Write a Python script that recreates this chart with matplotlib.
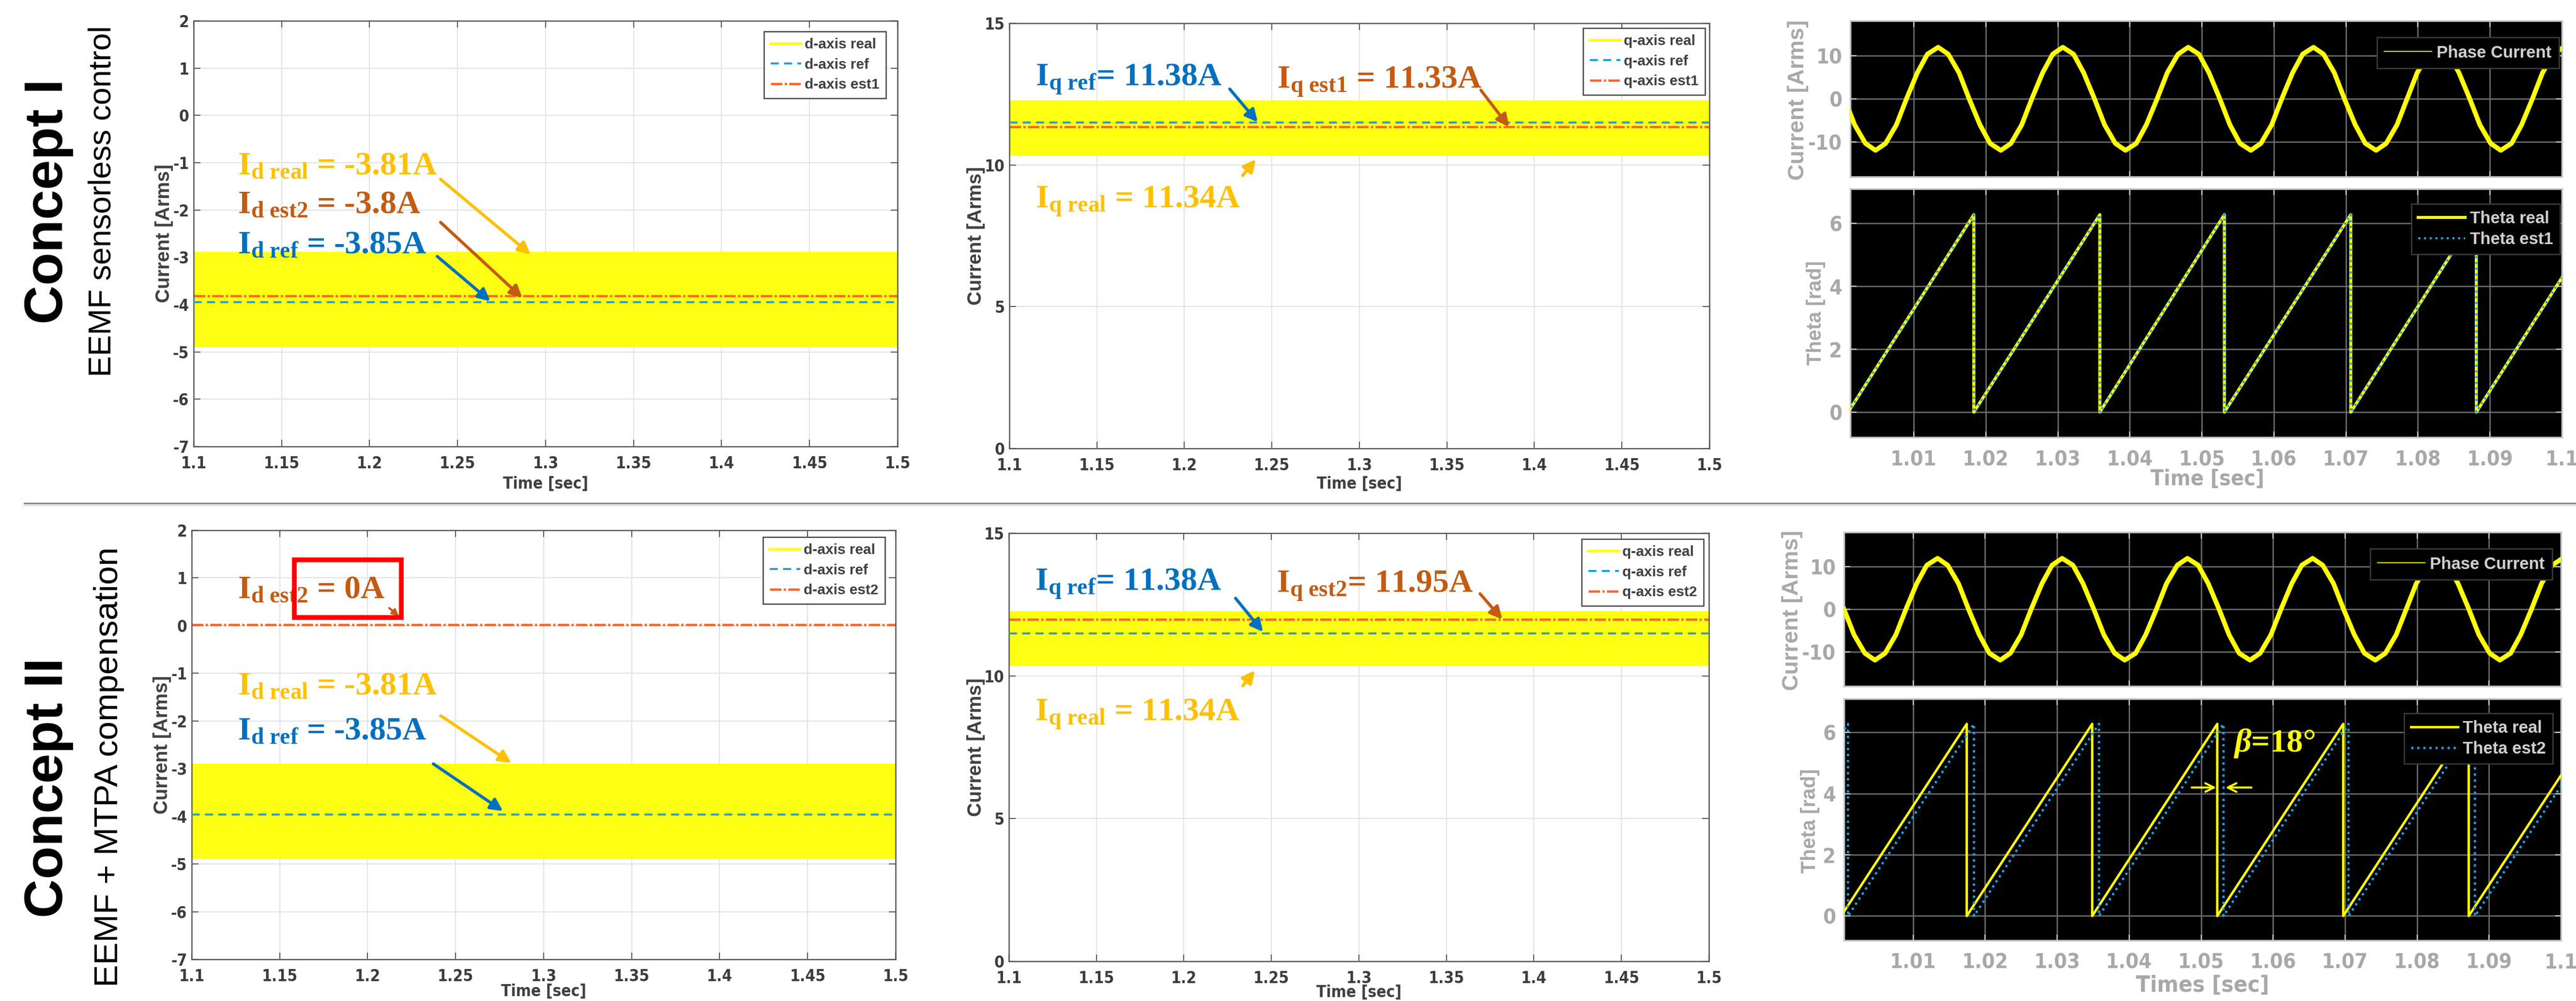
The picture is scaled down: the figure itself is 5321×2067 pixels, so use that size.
import matplotlib
matplotlib.use('Agg')
import matplotlib.pyplot as plt
from matplotlib.lines import Line2D
from matplotlib.patches import Rectangle
from matplotlib import font_manager as fm

# =========================
# data
# =========================
time_ticks = [1.1, 1.15, 1.2, 1.25, 1.3, 1.35, 1.4, 1.45, 1.5]
time_tick_labels = ['1.1', '1.15', '1.2', '1.25', '1.3', '1.35', '1.4', '1.45', '1.5']
d_ticks = [2, 1, 0, -1, -2, -3, -4, -5, -6, -7]
d_tick_labels = ['2', '1', '0', '-1', '-2', '-3', '-4', '-5', '-6', '-7']
q_ticks = [0, 5, 10, 15]
q_tick_labels = ['0', '5', '10', '15']

# ripple envelope (low, high) of the measured dq currents
d_real_band_c1 = [-4.89, -2.88]
d_real_band_c2 = [-4.89, -2.90]
q_real_band_c1 = [10.33, 12.28]
q_real_band_c2 = [10.35, 12.27]
d_ref_c1 = -3.95
d_ref_c2 = -3.96
d_est_c1 = -3.82
d_est_c2 = 0.02
q_ref_c1 = 11.50
q_ref_c2 = 11.49
q_est_c1 = 11.34
q_est_c2 = 11.98

d_labels_c1 = ['d-axis real', 'd-axis ref', 'd-axis est1']
d_labels_c2 = ['d-axis real', 'd-axis ref', 'd-axis est2']
q_labels_c1 = ['q-axis real', 'q-axis ref', 'q-axis est1']
q_labels_c2 = ['q-axis real', 'q-axis ref', 'q-axis est2']

# scope panels
scope_ticks = [1.01, 1.02, 1.03, 1.04, 1.05, 1.06, 1.07, 1.08, 1.09, 1.1]
scope_tick_labels = ['1.01', '1.02', '1.03', '1.04', '1.05', '1.06', '1.07', '1.08', '1.09', '1.1']
cur_ticks = [-10, 0, 10]
cur_tick_labels = ['-10', '0', '10']
theta_ticks = [0, 2, 4, 6]
theta_tick_labels = ['0', '2', '4', '6']

phase_t = [1.0004, 1.0018, 1.0033, 1.0047, 1.0061, 1.0076, 1.0090, 1.0105, 1.0119, 1.0134, 1.0148, 1.0163,
           1.0177, 1.0192, 1.0206, 1.0221, 1.0235, 1.0250, 1.0264, 1.0279, 1.0293, 1.0307, 1.0322, 1.0336,
           1.0351, 1.0365, 1.0380, 1.0394, 1.0409, 1.0423, 1.0438, 1.0452, 1.0467, 1.0481, 1.0496, 1.0510,
           1.0525, 1.0539, 1.0553, 1.0568, 1.0582, 1.0597, 1.0611, 1.0626, 1.0640, 1.0655, 1.0669, 1.0684,
           1.0698, 1.0713, 1.0727, 1.0742, 1.0756, 1.0771, 1.0785, 1.0799, 1.0814, 1.0828, 1.0843, 1.0857,
           1.0872, 1.0886, 1.0901, 1.0915, 1.0930, 1.0944, 1.0959, 1.0973, 1.0988, 1.1002]
phase_i = [0, -6.0, -10.3, -11.9, -10.3, -6.0, 0, 6.0, 10.3, 11.9, 10.3, 6.0,
           0, -6.0, -10.3, -11.9, -10.3, -6.0, 0, 6.0, 10.3, 11.9, 10.3, 6.0,
           0, -6.0, -10.3, -11.9, -10.3, -6.0, 0, 6.0, 10.3, 11.9, 10.3, 6.0,
           0, -6.0, -10.3, -11.9, -10.3, -6.0, 0, 6.0, 10.3, 11.9, 10.3, 6.0,
           0, -6.0, -10.3, -11.9, -10.3, -6.0, 0, 6.0, 10.3, 11.9, 10.3, 6.0,
           0, -6.0, -10.3, -11.9, -10.3, -6.0, 0, 6.0, 10.3, 11.9]

theta_c1_t = [1.0009, 1.01835, 1.01835, 1.03584, 1.03584, 1.05313, 1.05313, 1.07068, 1.07068, 1.08811, 1.08811, 1.1]
theta_c1_real = [0, 6.28, 0, 6.28, 0, 6.28, 0, 6.28, 0, 6.28, 0, 4.28]
theta_c1_est = [0, 6.28, 0, 6.28, 0, 6.28, 0, 6.28, 0, 6.28, 0, 4.28]

theta_c2_real_t = [1.0, 1.01745, 1.01745, 1.03488, 1.03488, 1.05225, 1.05225, 1.06975, 1.06975, 1.08718, 1.08718, 1.1]
theta_c2_real = [0, 6.28, 0, 6.28, 0, 6.28, 0, 6.28, 0, 6.28, 0, 4.6]
theta_c2_est_t = [1.0, 1.00095, 1.00095, 1.01845, 1.01845, 1.03582, 1.03582, 1.05311, 1.05311, 1.07048, 1.07048,
                  1.08804, 1.08804, 1.1]
theta_c2_est = [5.94, 6.28, 0, 6.28, 0, 6.28, 0, 6.28, 0, 6.28, 0, 6.28, 0, 4.25]

# =========================
# style
# =========================
W, H = 5321, 2067
YEL = '#FFFF14'
REF = '#18A0EE'
EST = '#FF6428'
C_ORANGE = '#FFC000'
C_BROWN = '#C55A11'
C_BLUE = '#0070C0'
DARK = '#3c3c3c'
SCOPE_TXT = '#a8a8a8'

plt.rcParams['mathtext.fontset'] = 'custom'
plt.rcParams['mathtext.rm'] = 'Liberation Serif:bold'
plt.rcParams['mathtext.it'] = 'Liberation Serif:italic:bold'
plt.rcParams['mathtext.bf'] = 'Liberation Serif:bold'

# narrow bold font for the tick numbers, if one is installed
narrow_file = None
for f in fm.fontManager.ttflist:
    low = f.fname.lower()
    if ('narrow' in low or 'condensed' in low) and 'bold' in low and 'oblique' not in low and 'italic' not in low:
        narrow_file = f.fname
        break


def tick_font(size):
    if narrow_file:
        return fm.FontProperties(fname=narrow_file, size=size)
    return fm.FontProperties(family='Liberation Sans', weight='bold', size=size * 0.88)


fp_tick_l = tick_font(24)
fp_tick_r = tick_font(31)
fp_xlab_l = tick_font(24)
fp_xlab_r = tick_font(32)
fp_xlab_r2 = tick_font(34)
fp_ann = fm.FontProperties(family='Liberation Serif', weight='bold', size=49)


def box(l, t, r, b):
    return [l / W, 1 - b / H, (r - l) / W, (b - t) / H]


def fx(x):
    return x / W


def fy(y):
    return 1 - y / H


fig = plt.figure(figsize=(W / 100, H / 100), dpi=100)
fig.patch.set_facecolor('white')


def style_labels(ax, fp, color):
    for lab in ax.get_xticklabels() + ax.get_yticklabels():
        lab.set_fontproperties(fp)
        lab.set_color(color)


def dq_panel(pos, band, ref, est, labels, ylim, yticks, ytlabels, leg_dx, leg_dy):
    ax = fig.add_axes(pos)
    ax.axhspan(band[0], band[1], color=YEL, lw=0, zorder=1)
    ref_line = ax.axhline(ref, color=REF, lw=3, ls=(0, (4, 2.6)), zorder=3)
    est_line = ax.axhline(est, color=EST, lw=3.4, ls=(0, (5, 1, 1, 1)), zorder=2)
    ax.set_xlim(1.1, 1.5)
    ax.set_ylim(*ylim)
    ax.set_xticks(time_ticks)
    ax.set_xticklabels(time_tick_labels)
    ax.set_yticks(yticks)
    ax.set_yticklabels(ytlabels)
    ax.grid(True, color='#e2e2e2', lw=1.4)
    ax.set_axisbelow(True)
    for s in ax.spines.values():
        s.set_color('#555555')
        s.set_linewidth(1.8)
    ax.tick_params(direction='in', length=10, width=1.5, top=True, right=True, colors='#555555')
    ax.tick_params(axis='x', pad=14)
    ax.tick_params(axis='y', pad=7)
    style_labels(ax, fp_tick_l, DARK)
    handles = [Line2D([], [], color=YEL, lw=4), ref_line, est_line]
    w = pos[2] * W
    h = pos[3] * H
    leg = ax.legend(handles, labels, loc='upper right', bbox_to_anchor=(1 - leg_dx / w, 1 - leg_dy / h),
                    borderaxespad=0, frameon=True, fancybox=False, framealpha=1,
                    prop=dict(family='Liberation Sans', weight='bold', size=21.5),
                    labelcolor='#404040', handlelength=2.1, handletextpad=0.25,
                    labelspacing=0.45, borderpad=0.45)
    leg.get_frame().set_edgecolor('#404040')
    leg.get_frame().set_linewidth(1.8)
    return ax


def scope_axes(pos, xlim, ylim, yticks, ytlabels, show_x):
    ax = fig.add_axes(pos)
    ax.set_facecolor('black')
    ax.set_xlim(*xlim)
    ax.set_ylim(*ylim)
    ax.set_xticks(scope_ticks)
    ax.set_xticklabels(scope_tick_labels)
    ax.set_yticks(yticks)
    ax.set_yticklabels(ytlabels)
    ax.grid(True, color='#6a6a6a', lw=2)
    ax.set_axisbelow(True)
    for s in ax.spines.values():
        s.set_color('#c4c4c4')
        s.set_linewidth(2.5)
    ax.tick_params(direction='in', length=9, width=1.6, top=True, right=True, color='#d0d0d0')
    ax.tick_params(axis='x', pad=18, labelbottom=show_x)
    ax.tick_params(axis='y', pad=12)
    style_labels(ax, fp_tick_r, SCOPE_TXT)
    return ax


def scope_legend(ax, handles, labels, dx, dy, pad):
    w = ax.get_position().width * W
    h = ax.get_position().height * H
    leg = ax.legend(handles, labels, loc='upper right', bbox_to_anchor=(1 - dx / w, 1 - dy / h),
                    borderaxespad=0, frameon=True, fancybox=False, framealpha=1,
                    facecolor='black', edgecolor='#3a3a3a',
                    prop=dict(family='Liberation Sans', weight='bold', size=25),
                    labelcolor='#cfcfcf', handlelength=2.8, handletextpad=0.3,
                    labelspacing=0.3, borderpad=pad)
    leg.get_frame().set_linewidth(2)


def arrow(ax, start, end, color, lw=4.5, ms=38):
    ax.annotate('', xy=end, xytext=start,
                arrowprops=dict(arrowstyle='-|>', color=color, lw=lw, mutation_scale=ms,
                                shrinkA=0, shrinkB=0), zorder=6)


def label(ax, xy, s, color):
    ax.text(xy[0], xy[1], s, color=color, fontproperties=fp_ann, ha='left', va='baseline', zorder=6)


# =========================
# Concept I
# =========================
ax = dq_panel(box(400, 43, 1854, 922), d_real_band_c1, d_ref_c1, d_est_c1, d_labels_c1,
              (-7, 2), d_ticks, d_tick_labels, 24, 22)
label(ax, (1.125, -1.245), r'I$_{\mathrm{d\ real}}$ = -3.81A', C_ORANGE)
label(ax, (1.125, -2.06), r'I$_{\mathrm{d\ est2}}$ = -3.8A', C_BROWN)
label(ax, (1.125, -2.91), r'I$_{\mathrm{d\ ref}}$ = -3.85A', C_BLUE)
arrow(ax, (1.2403, -1.35), (1.2915, -2.94), C_ORANGE)
arrow(ax, (1.2403, -2.26), (1.2868, -3.86), C_BROWN)
arrow(ax, (1.2384, -2.98), (1.2686, -3.93), C_BLUE)

ax = dq_panel(box(2085, 48, 3531, 926), q_real_band_c1, q_ref_c1, q_est_c1, q_labels_c1,
              (0, 15), q_ticks, q_tick_labels, 9, 10)
label(ax, (1.115, 12.8), r'I$_{\mathrm{q\ ref}}$= 11.38A', C_BLUE)
label(ax, (1.253, 12.71), r'I$_{\mathrm{q\ est1}}$ = 11.33A', C_BROWN)
label(ax, (1.115, 8.49), r'I$_{\mathrm{q\ real}}$ = 11.34A', C_ORANGE)
arrow(ax, (1.2259, 12.68), (1.2419, 11.51), C_BLUE)
arrow(ax, (1.3694, 12.64), (1.3855, 11.34), C_BROWN)
arrow(ax, (1.2333, 9.63), (1.2408, 10.2), C_ORANGE)

ax_c = scope_axes(box(3822, 43, 5292, 365), (1.0012, 1.1), (-18, 18), cur_ticks, cur_tick_labels, False)
ax_c.plot(phase_t, phase_i, color='#FFFF00', lw=7, solid_joinstyle='round', zorder=3)
scope_legend(ax_c, [Line2D([], [], color='#FFFF00', lw=1.5)], ['Phase Current'], 6, 34, 0.45)

ax_t = scope_axes(box(3822, 390, 5292, 903), (1.0012, 1.1), (-0.8, 7.1), theta_ticks, theta_tick_labels, True)
l1, = ax_t.plot(theta_c1_t, theta_c1_real, color='#FFFF00', lw=4.5, zorder=3)
l2, = ax_t.plot(theta_c1_t, theta_c1_est, color='#1BA1E6', lw=3.2, ls=':', zorder=4)
scope_legend(ax_t, [l1, l2], ['Theta real', 'Theta est1'], 4, 31, 0.4)

# =========================
# Concept II
# =========================
ax = dq_panel(box(396, 1095, 1850, 1981), d_real_band_c2, d_ref_c2, d_est_c2, d_labels_c2,
              (-7, 2), d_ticks, d_tick_labels, 22, 14)
label(ax, (1.126, 0.58), r'I$_{\mathrm{d\ est2}}$ = 0A', C_BROWN)
label(ax, (1.126, -1.44), r'I$_{\mathrm{d\ real}}$ = -3.81A', C_ORANGE)
label(ax, (1.126, -2.39), r'I$_{\mathrm{d\ ref}}$ = -3.85A', C_BLUE)
arrow(ax, (1.2415, -1.89), (1.2816, -2.88), C_ORANGE)
arrow(ax, (1.2373, -2.90), (1.2769, -3.89), C_BLUE)
arrow(ax, (1.2122, 0.37), (1.2177, 0.20), C_BROWN, lw=3, ms=20)
ax.add_patch(Rectangle((1.1583, 0.17), 0.0608, 1.21, fill=False, edgecolor='#FF0000', lw=7, zorder=7))

ax = dq_panel(box(2084, 1101, 3530, 1985), q_real_band_c2, q_ref_c2, q_est_c2, q_labels_c2,
              (0, 15), q_ticks, q_tick_labels, 11, 12)
label(ax, (1.115, 13.01), r'I$_{\mathrm{q\ ref}}$= 11.38A', C_BLUE)
label(ax, (1.253, 12.93), r'I$_{\mathrm{q\ est2}}$= 11.95A', C_BROWN)
label(ax, (1.115, 8.43), r'I$_{\mathrm{q\ real}}$ = 11.34A', C_ORANGE)
arrow(ax, (1.2295, 12.72), (1.2452, 11.54), C_BLUE)
arrow(ax, (1.3692, 12.88), (1.3819, 11.98), C_BROWN)
arrow(ax, (1.2336, 9.65), (1.2405, 10.19), C_ORANGE)

ax_c = scope_axes(box(3809, 1099, 5290, 1417), (1.0004, 1.1), (-18, 18), cur_ticks, cur_tick_labels, False)
ax_c.plot(phase_t, phase_i, color='#FFFF00', lw=7, solid_joinstyle='round', zorder=3)
scope_legend(ax_c, [Line2D([], [], color='#FFFF00', lw=1.5)], ['Phase Current'], 18, 34, 0.45)

ax_t = scope_axes(box(3809, 1443, 5290, 1942), (1.0004, 1.1), (-0.8, 7.1), theta_ticks, theta_tick_labels, True)
l1, = ax_t.plot(theta_c2_real_t, theta_c2_real, color='#FFFF00', lw=3.6, zorder=3)
l2, = ax_t.plot(theta_c2_est_t, theta_c2_est, color='#1BA1E6', lw=3.4, ls=':', zorder=4)
scope_legend(ax_t, [l1, l2], ['Theta real', 'Theta est2'], 17, 30, 0.4)
ax_t.text(1.0545, 5.37, r'$\mathit{\beta}$=18°', color='#FFFF00', fontproperties=fp_ann,
          ha='left', va='baseline', zorder=6)
ax_t.annotate('', xy=(1.0521, 4.2), xytext=(1.0487, 4.2),
              arrowprops=dict(arrowstyle='->', color='#FFFF00', lw=3, mutation_scale=32, shrinkA=0, shrinkB=0))
ax_t.annotate('', xy=(1.0534, 4.2), xytext=(1.0570, 4.2),
              arrowprops=dict(arrowstyle='->', color='#FFFF00', lw=3, mutation_scale=32, shrinkA=0, shrinkB=0))

# =========================
# axis titles and row headers
# =========================
lab_l = dict(family='Liberation Sans', weight='bold', size=29, color='#404040')
for x, y in [(339, 482), (2016, 487), (335, 1538), (2016, 1543)]:
    fig.text(fx(x), fy(y), 'Current [Arms]', rotation=90, ha='center', va='center', **lab_l)
for x, y in [(1127, 1000), (2808, 1000), (1123, 2048), (2807, 2050)]:
    fig.text(fx(x), fy(y), 'Time [sec]', ha='center', va='center', fontproperties=fp_xlab_l, color='#404040')

lab_r = dict(family='Liberation Sans', weight='bold', color=SCOPE_TXT)
fig.text(fx(3714), fy(206), 'Current [Arms]', rotation=90, ha='center', va='center', size=33.5, **lab_r)
fig.text(fx(3751), fy(646), 'Theta [rad]', rotation=90, ha='center', va='center', size=30, **lab_r)
fig.text(fx(3702), fy(1260), 'Current [Arms]', rotation=90, ha='center', va='center', size=33.5, **lab_r)
fig.text(fx(3739), fy(1695), 'Theta [rad]', rotation=90, ha='center', va='center', size=30, **lab_r)
fig.text(fx(4560), fy(990), 'Time [sec]', ha='center', va='center', fontproperties=fp_xlab_r, color=SCOPE_TXT)
fig.text(fx(4550), fy(2035), 'Times [sec]', ha='center', va='center', fontproperties=fp_xlab_r2, color=SCOPE_TXT)

fig.text(fx(100), fy(416), 'Concept I', rotation=90, ha='center', va='center',
         family='Liberation Sans', weight='bold', size=80, color='black')
fig.text(fx(212), fy(416), 'EEMF sensorless control', rotation=90, ha='center', va='center',
         family='Liberation Sans', size=47, color='black')
fig.text(fx(100), fy(1627), 'Concept II', rotation=90, ha='center', va='center',
         family='Liberation Sans', weight='bold', size=80, color='black')
fig.text(fx(225), fy(1130), 'EEMF + MTPA compensation', rotation=90, ha='center', va='top',
         family='Liberation Sans', size=50, color='black')

# separator between the two concepts
fig.add_artist(Line2D([fx(50), 1], [fy(1043), fy(1043)], color='#e0e0e0', lw=3))
fig.add_artist(Line2D([fx(50), 1], [fy(1039), fy(1039)], color='#7f7f7f', lw=2))

fig.savefig('out.png', dpi=100, facecolor='white')
